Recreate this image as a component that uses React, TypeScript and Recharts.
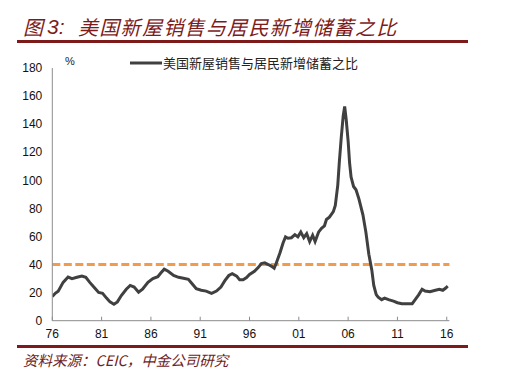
import React from "react";
import { LineChart, Line, XAxis, YAxis, ReferenceLine, Legend } from "recharts";

const years = [
  1976.0, 1976.3, 1976.6, 1977.1, 1977.6, 1978.0, 1978.5, 1979.0, 1979.4, 1979.8,
  1980.3, 1980.7, 1981.1, 1981.5, 1981.85, 1982.25, 1982.6, 1983.0, 1983.5, 1983.9,
  1984.3, 1984.75, 1985.15, 1985.7, 1986.2, 1986.7, 1987.0, 1987.35, 1987.75, 1988.3,
  1988.8, 1989.3, 1989.8, 1990.2, 1990.6, 1991.1, 1991.6, 1992.15, 1992.65, 1993.1,
  1993.5, 1993.9, 1994.25, 1994.7, 1995.0, 1995.35, 1995.7, 1996.0, 1996.5, 1996.9,
  1997.2, 1997.55, 1997.9, 1998.2, 1998.5, 1998.7, 1999.1, 1999.4, 1999.65, 1999.9,
  2000.25, 2000.6, 2000.9, 2001.2, 2001.5, 2001.8, 2002.1, 2002.4, 2002.65, 2003.0,
  2003.3, 2003.6, 2003.8, 2004.1, 2004.5, 2004.7, 2004.95, 2005.1, 2005.3, 2005.5,
  2005.65, 2005.8, 2006.0, 2006.15, 2006.3, 2006.55, 2006.8, 2007.1, 2007.5, 2007.8,
  2008.1, 2008.4, 2008.6, 2008.85, 2009.05, 2009.4, 2009.7, 2010.1, 2010.6, 2011.0,
  2011.45, 2011.95, 2012.5, 2012.8, 2013.15, 2013.5, 2013.8, 2014.3, 2014.85, 2015.25,
  2015.6, 2015.9, 2016.1,
];

const ratio = [
  17.2, 19.5, 21, 27.3, 31.1, 30, 30.9, 31.8, 30.9, 27.3,
  23.3, 20.1, 19.5, 16.1, 13.4, 11.7, 13.4, 17.9, 22.4, 25.1,
  24, 20.3, 22.4, 27.3, 30, 31.3, 34, 36.7, 35.2, 32.2,
  30.9, 30.2, 29.5, 26.2, 22.8, 21.7, 21.1, 19.5, 21.1, 24,
  28.5, 32.2, 33.5, 31.8, 29.1, 29.1, 30.7, 32.9, 35.2, 38,
  40.7, 41.2, 40, 38.9, 37.4, 40.7, 48.6, 55.3, 59.7, 58.7,
  59.1, 61.3, 59.7, 63.1, 59.1, 62, 56.4, 60.9, 56.4, 63.1,
  65.8, 67.6, 72.1, 73.8, 77.7, 82.1, 96.6, 112.3, 130.2, 145.9,
  152.6, 143.6, 128, 112.3, 102.3, 95.6, 93.3, 86.6, 75.4, 63.1,
  47.4, 36.2, 25.1, 18.6, 16.8, 15, 16.1, 15, 13.9, 12.8,
  12.1, 12.1, 12.1, 15, 18.4, 22.4, 21.1, 20.6, 21.7, 22.4,
  21.7, 23.3, 24.6,
];

const xTicks = [1976, 1981, 1986, 1991, 1996, 2001, 2006, 2011, 2016];
const yTicks = [0, 20, 40, 60, 80, 100, 120, 140, 160, 180];
const averageLevel = 40;
const seriesName = "美国新屋销售与居民新增储蓄之比";
const titleText = "美国新屋销售与居民新增储蓄之比";
const sourceText = "资料来源：CEIC，中金公司研究";

const data = years.map((y, i) => ({ year: y, value: ratio[i] }));

const LATIN = '"Liberation Sans", Arial, "Noto Sans CJK SC", sans-serif';
const CJK = '"Noto Sans CJK SC", "Liberation Sans", sans-serif';
const RED = "#7d1a1a";

const LegendContent = () => (
  <div style={{ display: "flex", alignItems: "center", fontFamily: CJK, fontSize: 13, color: "#222", whiteSpace: "nowrap" }}>
    <svg width={32} height={6} style={{ display: "block" }}>
      <line x1={0} y1={3} x2={32} y2={3} stroke="#404040" strokeWidth={3} />
    </svg>
    <span style={{ marginLeft: 1, lineHeight: "16px" }}>{seriesName}</span>
  </div>
);

export default function App() {
  return (
    <div style={{ position: "absolute", left: 0, top: 0, width: 507, height: 391, background: "#fff", overflow: "hidden" }}>
      <div style={{ position: "absolute", left: 23, top: 15, fontFamily: CJK, fontStyle: "italic", fontSize: 20, lineHeight: "24px", color: RED, whiteSpace: "nowrap" }}>图</div>
      <div style={{ position: "absolute", left: 47, top: 15, fontFamily: LATIN, fontStyle: "italic", fontSize: 21, lineHeight: "24px", color: RED, whiteSpace: "nowrap" }}>3:</div>
      <div style={{ position: "absolute", left: 78, top: 15, fontFamily: CJK, fontStyle: "italic", fontSize: 20, letterSpacing: 1.3, lineHeight: "24px", color: RED, whiteSpace: "nowrap" }}>{titleText}</div>
      <div style={{ position: "absolute", left: 17, top: 40, width: 451, height: 3, background: RED }} />
      <div style={{ position: "absolute", left: 17, top: 345, width: 451, height: 2.5, background: RED }} />
      <div style={{ position: "absolute", left: 23, top: 351, fontFamily: CJK, fontStyle: "italic", fontSize: 14.5, lineHeight: "18px", color: "#6e2222", whiteSpace: "nowrap" }}>{sourceText}</div>
      <div style={{ position: "absolute", left: 65, top: 54, fontFamily: LATIN, fontSize: 11, lineHeight: "14px", color: "#222" }}>%</div>
      <div style={{ position: "absolute", left: 0, top: 0 }}>
        <LineChart width={507} height={391} data={data} margin={{ top: 52, right: 57.6, bottom: 40.3, left: 0 }}>
          <XAxis
            dataKey="year"
            type="number"
            domain={[1976, 2016.27]}
            ticks={xTicks}
            allowDataOverflow
            tickFormatter={(v: number) => String(v % 100).padStart(2, "0")}
            height={30}
            tickSize={-4}
            tickMargin={13}
            stroke="#8c8c8c"
            tick={{ fill: "#111", fontSize: 12, fontFamily: LATIN }}
          />
          <YAxis
            type="number"
            domain={[0, 180]}
            ticks={yTicks}
            width={52.3}
            tickLine={false}
            tickSize={0}
            tickMargin={10}
            stroke="#8c8c8c"
            tick={{ fill: "#111", fontSize: 12, fontFamily: LATIN }}
          />
          <ReferenceLine y={averageLevel} stroke="#f29b4c" strokeWidth={3} strokeDasharray="8 3.5" />
          <Legend
            verticalAlign="top"
            align="left"
            content={LegendContent}
            wrapperStyle={{ position: "absolute", top: 55, left: 130, width: 260 }}
          />
          <Line
            type="linear"
            dataKey="value"
            name={seriesName}
            stroke="#404040"
            strokeWidth={3}
            dot={false}
            isAnimationActive={false}
          />
        </LineChart>
      </div>
    </div>
  );
}
